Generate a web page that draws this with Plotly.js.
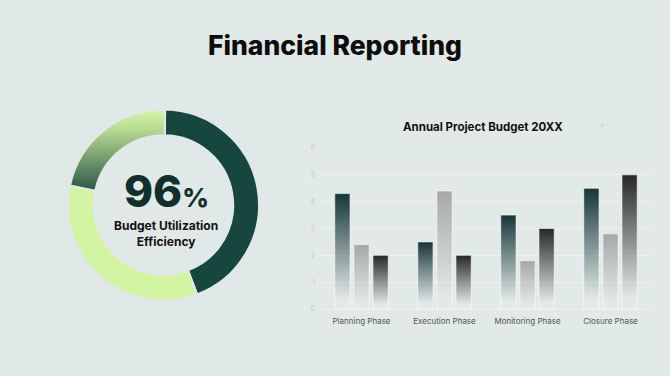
<!DOCTYPE html>
<html><head><meta charset="utf-8">
<script src="https://cdn.plot.ly/plotly-3.0.1.min.js"></script>
<style>html,body{margin:0;padding:0;background:#e0e9e7;}#chart{width:670px;height:376px;}</style>
</head><body><div id="chart"></div>
<script>
// ---- data ----
const phases = ["Planning Phase", "Execution Phase", "Monitoring Phase", "Closure Phase"];
const seriesA = [4.3, 2.5, 3.5, 4.5];
const seriesB = [2.4, 4.4, 1.8, 2.8];
const seriesC = [2.0, 2.0, 3.0, 5.0];
const yTicks = [0, 1, 2, 3, 4, 5, 6];
const donutLabels = ["Utilized", "Allocated", "Remaining"];
const donutValues = [44, 34, 22];
const centerValue = "96";
const centerLabel = "Budget Utilization<br>Efficiency";

// ---- styles ----
const barTop = ["#163538", "#a7a7a7", "#272727"];
const font = "Inter, 'Noto Sans', sans-serif";

const bars = [seriesA, seriesB, seriesC].map((v, i) => ({
  type: "bar", x: phases, y: v, xaxis: "x", yaxis: "y",
  marker: {color: barTop[i], line: {color: "rgba(255,255,255,0.6)", width: 1}},
  hoverinfo: "skip", showlegend: false
}));

const donut = {
  type: "pie", labels: donutLabels, values: donutValues, hole: 0.73,
  sort: false, direction: "clockwise", rotation: 1,
  domain: {x: [68/670, 259/670], y: [(376-302)/376, (376-108)/376]},
  marker: {colors: ["#17463e", "#d3f4a3", "#6f9a68"], line: {color: "#e0e9e7", width: 2}},
  textinfo: "none", hoverinfo: "skip", showlegend: false
};

const layout = {
  width: 670, height: 376,
  margin: {l: 0, r: 0, t: 0, b: 0},
  paper_bgcolor: "#e0e9e7", plot_bgcolor: "rgba(0,0,0,0)",
  font: {family: font},
  title: {text: "Financial Reporting", x: 0.5, xanchor: "center", y: 1 - 46/376, yanchor: "middle",
          font: {family: font, size: 26.5, weight: 800, color: "#0d0d0d"}},
  barmode: "group", bargap: 0.31, bargroupgap: 0.2,
  xaxis: {domain: [320/670, 652/670], showgrid: false, zeroline: false, showline: false,
          ticks: "", ticklabelstandoff: 6, tickfont: {size: 8, color: "#505555"}, fixedrange: true},
  yaxis: {domain: [(376-309)/376, (376-148)/376], range: [0, 6], tickvals: yTicks,
          showgrid: true, gridcolor: "rgba(255,255,255,0.4)", gridwidth: 1,
          zeroline: true, zerolinecolor: "rgba(255,255,255,0.4)",
          ticks: "", ticklabelstandoff: 4, tickfont: {size: 7, color: "#c2cac9"}, fixedrange: true},
  shapes: [
    {type: "rect", xref: "paper", yref: "paper", x0: 285/670, x1: 1, y0: 0, y1: 1,
     fillcolor: "rgba(255,255,255,0.07)", line: {width: 0}, layer: "below"}
  ],
  annotations: [
    {text: "<b>Annual Project Budget 20XX</b>", xref: "paper", yref: "paper", x: 483/670, y: 1 - 127/376,
     xanchor: "center", yanchor: "middle", showarrow: false, font: {size: 11.5, color: "#111"}},
    {text: "+", xref: "paper", yref: "paper", x: 602/670, y: 1 - 125/376, xanchor: "center", yanchor: "middle",
     showarrow: false, font: {size: 12, color: "#cdd6d4"}},
    {text: centerValue + "<span style='font-size:26px'>%</span>", xref: "paper", yref: "paper",
     x: 166/670, y: 1 - 191/376, xanchor: "center", yanchor: "middle", showarrow: false,
     font: {size: 44, weight: 800, color: "#12302b"}},
    {text: "<b>" + centerLabel + "</b>", xref: "paper", yref: "paper", x: 166/670, y: 1 - 233/376,
     xanchor: "center", yanchor: "middle", showarrow: false, font: {size: 12, color: "#111"}}
  ]
};

Plotly.newPlot("chart", [...bars, donut], layout, {staticPlot: true, displayModeBar: false}).then(gd => {
  const NS = "http://www.w3.org/2000/svg";
  const svg = gd.querySelector(".main-svg");
  let defs = svg.querySelector("defs");
  if (!defs) { defs = document.createElementNS(NS, "defs"); svg.insertBefore(defs, svg.firstChild); }
  function grad(id, stops) {
    const g = document.createElementNS(NS, "linearGradient");
    g.setAttribute("id", id); g.setAttribute("x1", "0"); g.setAttribute("y1", "0");
    g.setAttribute("x2", "0"); g.setAttribute("y2", "1");
    stops.forEach(s => {
      const st = document.createElementNS(NS, "stop");
      st.setAttribute("offset", s[0]); st.setAttribute("stop-color", s[1]); st.setAttribute("stop-opacity", s[2]);
      g.appendChild(st);
    });
    defs.appendChild(g);
  }
  barTop.forEach((c, i) => grad("bg" + i, [[0, c, 1], [0.5, c, 0.45], [0.92, c, 0]]));
  grad("pg", [[0, "#d6f5a8", 1], [0.25, "#b7d992", 1], [1, "#2c5646", 1]]);
  gd.querySelectorAll(".barlayer .trace").forEach((t, i) => {
    t.querySelectorAll(".point path").forEach(p => { p.style.fill = "url(#bg" + i + ")"; p.style.fillOpacity = 1; });
  });
  const slices = gd.querySelectorAll(".pielayer .slice path.surface");
  if (slices[2]) slices[2].style.fill = "url(#pg)";
});
</script></body></html>
